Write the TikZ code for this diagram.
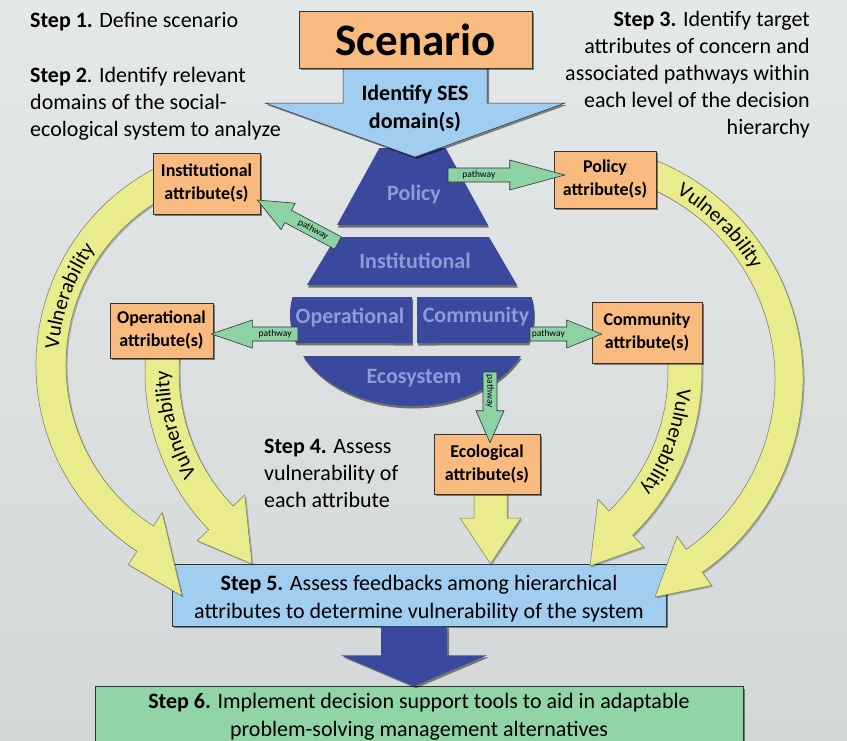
\documentclass[tikz,border=0pt]{standalone}
\usepackage{fontspec}
\setmainfont{Carlito}
\usetikzlibrary{calc,shadows,decorations.text}

\definecolor{bgtop}{RGB}{229,232,232}
\definecolor{bgbot}{RGB}{212,215,215}
\definecolor{orangebox}{RGB}{248,186,126}
\definecolor{lightblue}{RGB}{160,205,240}
\definecolor{darkblue}{RGB}{58,72,158}
\definecolor{pyrtext}{RGB}{140,156,216}
\definecolor{greenbox}{RGB}{144,212,168}
\definecolor{pathgreen}{RGB}{140,210,165}
\definecolor{vulnyellow}{RGB}{233,235,140}
\definecolor{vulnedge}{RGB}{120,120,90}
\definecolor{edgegray}{RGB}{50,50,50}

\newcommand{\stepfont}{\fontsize{22}{27}\selectfont}
\newcommand{\vulfont}{\fontsize{21}{21}\selectfont}
\newcommand{\pwfont}{\fontsize{9.5}{10}\selectfont}
\newcommand{\pyrfont}{\bfseries\fontsize{22}{22}\selectfont}

\tikzset{
  shd/.style={drop shadow={shadow xshift=2pt, shadow yshift=-2pt, opacity=0.45, fill=black}},
  attrbox/.style={draw=edgegray, line width=0.6pt, fill=orangebox, shd, align=center,
    inner sep=2pt, font=\bfseries\fontsize{18}{23}\selectfont},
  stepbox/.style={draw=edgegray, line width=0.6pt, shd, inner sep=0pt},
  steptext/.style={align=center, inner sep=0pt, font=\fontsize{22}{27.5}\selectfont},
  plaintext/.style={inner sep=0pt, font=\stepfont},
  vuln/.style={fill=vulnyellow, draw=vulnedge, line width=0.5pt,
    drop shadow={shadow xshift=1.5pt, shadow yshift=-1.5pt, opacity=0.25, fill=black}},
  pathw/.style={fill=pathgreen, draw=edgegray, line width=0.6pt},
  pyr/.style={fill=darkblue, drop shadow={shadow xshift=1pt, shadow yshift=-2.5pt, opacity=0.5, fill=black}},
  pyrlabel/.style={text=pyrtext, font=\pyrfont, inner sep=0pt}
}

% curved "Vulnerability" arrow: cx, cy, mid radius, half width, start angle, end angle, head extra, tip x, tip y
\newcommand{\vulnarrow}[9]{%
  \pgfmathsetmacro\vro{#3+#4}%
  \pgfmathsetmacro\vri{#3-#4}%
  \pgfmathsetmacro\vrwo{#3+#4+#7}%
  \pgfmathsetmacro\vrwi{#3-#4-#7}%
  \path[vuln] ({#1+\vro*cos(#5)},{#2+\vro*sin(#5)}) arc[start angle=#5, end angle=#6, radius=\vro]
    -- ({#1+\vrwo*cos(#6)},{#2+\vrwo*sin(#6)}) -- (#8,#9)
    -- ({#1+\vrwi*cos(#6)},{#2+\vrwi*sin(#6)})
    -- ({#1+\vri*cos(#6)},{#2+\vri*sin(#6)}) arc[start angle=#6, end angle=#5, radius=\vri] -- cycle;
}
% text along arc: cx, cy, radius, start, end
\newcommand{\vulntext}[5]{%
  \path[decorate, decoration={text along path, text align=center, text={|\vulfont|Vulnerability}}]
    ({#1+#3*cos(#4)},{#2+#3*sin(#4)}) arc[start angle=#4, end angle=#5, radius=#3];
}
% straight pathway arrow: tail, tip, shaft half width, head half width, head length
\newcommand{\patharrow}[5]{%
  \coordinate (pa-b) at ($(#2)!#5!(#1)$);
  \path[pathw] ($(#1)!#3!90:(#2)$) -- ($(pa-b)!#3!90:(#2)$) -- ($(pa-b)!#4!90:(#2)$) -- (#2)
    -- ($(pa-b)!#4!-90:(#2)$) -- ($(pa-b)!#3!-90:(#2)$) -- ($(#1)!#3!-90:(#2)$) -- cycle;
  \path (#1) -- (pa-b) node[midway, sloped, font=\pwfont, inner sep=0pt] {pathway};
}

\begin{document}
\begin{tikzpicture}[x=1pt,y=-1pt]
\useasboundingbox (0,0) rectangle (847,740);
\clip (0,0) rectangle (847,740);
\shade[top color=bgtop, bottom color=bgbot] (0,0) rectangle (847,740);

% Step 5 box
\node[stepbox, fill=lightblue, minimum width=494pt, minimum height=62pt] (s5) at (419,595) {};
\node[steptext] (s5t) at (419,598.5)
  {\textbf{Step 5.} Assess feedbacks among hierarchical\\attributes to determine vulnerability of the system};

% Step 6 box
\node[stepbox, fill=greenbox, minimum width=648pt, minimum height=60pt] (s6) at (419,716.5) {};
\node[steptext] (s6t) at (419,716.5)
  {\textbf{Step 6.} Implement decision support tools to aid in adaptable\\problem-solving management alternatives};

% big blue arrow Step 5 -> Step 6
\path[fill=darkblue, shd] ($(s5.south)+(-38,0)$) -- ($(s5.south)+(28,0)$) -- ($(s5.south)+(28,29)$)
  -- ($(s5.south)+(68,29)$) -- ($(s6.north)+(-5,0)$) -- ($(s5.south)+(-78,29)$) -- ($(s5.south)+(-38,29)$) -- cycle;

% vulnerability arrows
\vulnarrow{258}{365}{207}{15}{245}{123}{16}{182}{596}
\vulnarrow{372}{372}{210}{17}{188}{136}{16}{252}{564}
\vulnarrow{567}{379}{222}{14}{287}{415}{16}{655}{597}
\vulnarrow{475}{372}{210}{17}{352}{406}{16}{590}{566}
\vulntext{258}{365}{200}{170}{230}
\vulntext{372}{372}{203}{130}{200}
\vulntext{567}{379}{215}{280}{350}
\vulntext{475}{372}{203}{-15}{55}

% attribute boxes
\node[attrbox, minimum width=107pt, minimum height=61pt] (instA) at (206.5,183.5) {Institutional\\attribute(s)};
\node[attrbox, minimum width=102pt, minimum height=57pt] (polA) at (605,179.5) {Policy\\attribute(s)};
\node[attrbox, minimum width=103pt, minimum height=55pt] (opA) at (161.5,330.5) {Operational\\attribute(s)};
\node[attrbox, minimum width=110pt, minimum height=61pt] (comA) at (647,332.5) {Community\\attribute(s)};

% middle yellow arrow (Ecological -> Step 5), drawn before its box
\path[vuln] (474,480) -- (507,480) -- (507,518) -- (521,518) -- ($(s5.north)+(71.5,0)$) -- (460,518) -- (474,518) -- cycle;
\node[attrbox, minimum width=106pt, minimum height=60pt] (ecoA) at (487,464) {Ecological\\attribute(s)};

% pyramid
\path[pyr] (337,225) -- (488,225) -- (445.6,148) -- (379.4,148) -- cycle;
\path[pyr] (307,285) -- (517,285) -- (489,237) -- (336,237) -- cycle;
\path[pyr] (412,297) -- (292.4,297) arc[start angle=191.4, end angle=162.1, x radius=122, y radius=91] -- (412,343) -- cycle;
\path[pyr] (417,297) -- (531.6,297) arc[start angle=-11.4, end angle=17.9, x radius=122, y radius=91] -- (417,343) -- cycle;
\path[pyr] (520.9,356) arc[start angle=26.8, end angle=153.2, x radius=122, y radius=91] -- cycle;
\node[pyrlabel] (pPol) at (414,195) {Policy};
\node[pyrlabel] (pIns) at (415,261) {Institutional};
\node[pyrlabel] (pOp) at (350,317) {Operational};
\node[pyrlabel] (pCom) at (476,317) {Community};
\node[pyrlabel] (pEco) at (414,378) {Ecosystem};

% scenario + identify arrow
\path[fill=lightblue, draw=edgegray, line width=0.5pt, shd] (343,60) -- (487,60) -- (487,103) -- (565,103)
  -- (415,157) -- (265,103) -- (343,103) -- cycle;
\node[draw=edgegray, line width=0.6pt, fill=orangebox, shd, minimum width=233pt, minimum height=57pt,
  font=\bfseries\fontsize{45}{45}\selectfont] (scen) at (415.5,39.5) {Scenario};
\node[align=center, inner sep=0pt, font=\bfseries\fontsize{22}{28}\selectfont] (ident) at (415,108) {Identify SES\\domain(s)};

% pathway arrows
\coordinate (tPol) at (448,175);
\coordinate (tIns) at (338,243);
\coordinate (tOp) at (298,334);
\coordinate (tCom) at (530,334);
\coordinate (tEco) at (490,372);
\coordinate (hPol) at ($(polA.west)+(11,-4.5)$);
\coordinate (hIns) at ($(instA.east)+(-3,16.5)$);
\coordinate (hOp) at ($(opA.east)+(-2,3.5)$);
\coordinate (hCom) at ($(comA.west)+(10,1.5)$);
\coordinate (hEco) at ($(ecoA.north)+(3,9)$);
\patharrow{tPol}{hPol}{7pt}{15pt}{55pt}
\patharrow{tIns}{hIns}{7pt}{15pt}{35pt}
\patharrow{tOp}{hOp}{7pt}{14pt}{41pt}
\patharrow{tCom}{hCom}{7pt}{14pt}{35pt}
\patharrow{tEco}{hEco}{7pt}{14pt}{32pt}

% step texts
\node[plaintext, anchor=base west] (st1) at (30,27) {\textbf{Step 1.} Define scenario};
\node[plaintext, anchor=north west, align=left] (st2) at (30,67.5) {\textbf{Step 2}. Identify relevant\\domains of the social-\\ecological system to analyze};
\node[plaintext, anchor=north east, align=right] (st3) at (810,11.5) {\textbf{Step 3.} Identify target\\attributes of concern and\\associated pathways within\\each level of the decision\\hierarchy};
\node[plaintext, anchor=north west, align=left] (st4) at (264,438.5) {\textbf{Step 4.} Assess\\vulnerability of\\each attribute};
\end{tikzpicture}
\end{document}
